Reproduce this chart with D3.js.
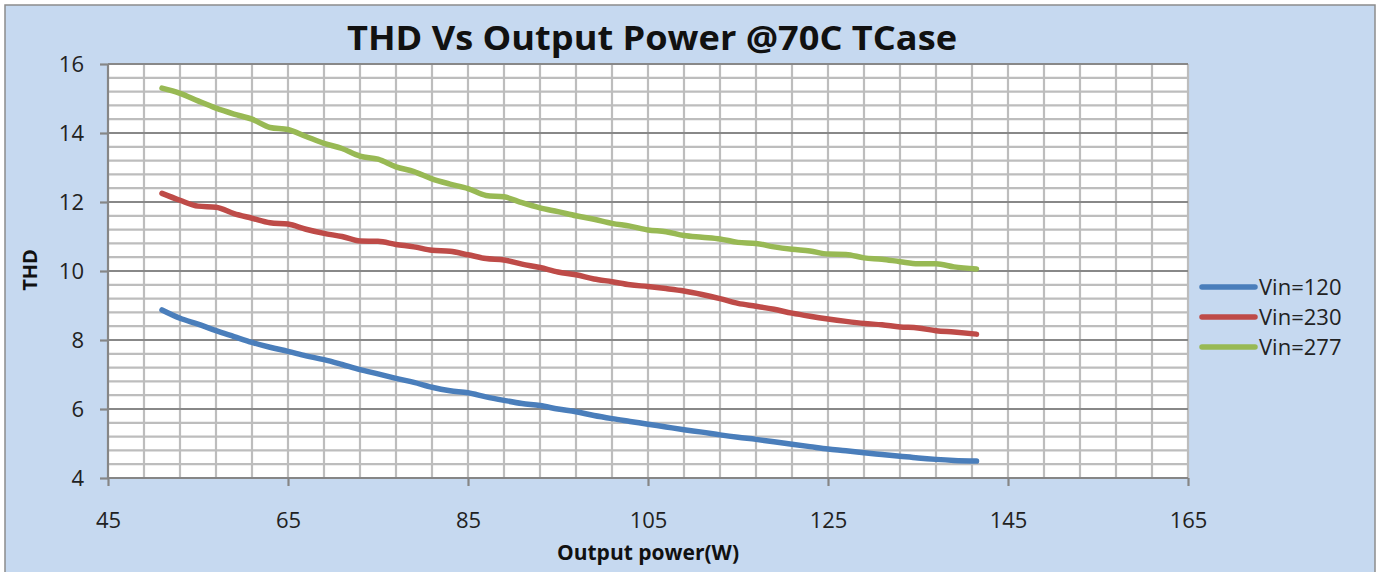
<!DOCTYPE html>
<html>
<head>
<meta charset="utf-8">
<script src="https://cdn.jsdelivr.net/npm/d3@7"></script>
<style>
  body { margin: 0; background: #fff; }
</style>
</head>
<body>
<script>
// output power (W), shared by all three series
var power = [51, 53, 55, 57, 59, 61, 63, 65, 67, 69, 71, 73, 75, 77, 79, 81, 83, 85, 87, 89,
             91, 93, 95, 97, 99, 101, 103, 105, 107, 109, 111, 113, 115, 117, 119, 121, 123,
             125, 127, 129, 131, 133, 135, 137, 139, 141.5];

var vin120 = [8.87, 8.63, 8.46, 8.27, 8.10, 7.93, 7.79, 7.67, 7.54, 7.43, 7.29, 7.14, 7.02, 6.89,
              6.77, 6.63, 6.53, 6.47, 6.35, 6.25, 6.16, 6.10, 6.00, 5.92, 5.81, 5.72, 5.64, 5.56,
              5.48, 5.40, 5.33, 5.25, 5.18, 5.12, 5.05, 4.98, 4.91, 4.84, 4.79, 4.73, 4.68, 4.63,
              4.58, 4.54, 4.51, 4.49];

var vin230 = [12.25, 12.05, 11.88, 11.85, 11.66, 11.53, 11.40, 11.36, 11.21, 11.09, 11.00, 10.87,
              10.86, 10.77, 10.70, 10.60, 10.57, 10.47, 10.36, 10.32, 10.20, 10.10, 9.97, 9.89,
              9.77, 9.69, 9.60, 9.55, 9.49, 9.42, 9.32, 9.20, 9.06, 8.98, 8.89, 8.78, 8.69, 8.61,
              8.54, 8.48, 8.44, 8.38, 8.35, 8.27, 8.23, 8.17];

var vin277 = [15.30, 15.15, 14.93, 14.72, 14.55, 14.40, 14.16, 14.10, 13.90, 13.70, 13.55, 13.33,
              13.24, 13.02, 12.88, 12.67, 12.52, 12.39, 12.19, 12.15, 11.98, 11.83, 11.72, 11.60,
              11.50, 11.38, 11.30, 11.19, 11.14, 11.03, 10.98, 10.93, 10.83, 10.80, 10.70, 10.63,
              10.58, 10.49, 10.48, 10.38, 10.34, 10.27, 10.21, 10.21, 10.12, 10.06];

var seriesNames = ["Vin=120", "Vin=230", "Vin=277"];
var seriesColors = ["#4a7ebb", "#be4b48", "#98b954"];
var xTicks = [45, 65, 85, 105, 125, 145, 165];
var yTicks = [4, 6, 8, 10, 12, 14, 16];

var series = [vin120, vin230, vin277];

var svg = d3.select("body")
    .append("svg")
    .attr("width", 1378)
    .attr("height", 572)
    .style("display", "block");

// chart background
svg.append("rect")
    .attr("x", 5)
    .attr("y", 5)
    .attr("width", 1370)
    .attr("height", 572)
    .attr("fill", "#c6d9f0")
    .attr("stroke", "#8c8c8c")
    .attr("stroke-width", 1.5);

var plotL = 108, plotR = 1188, plotT = 64, plotB = 478;

var x = d3.scaleLinear().domain([45, 165]).range([plotL, plotR]);
var y = d3.scaleLinear().domain([4, 16]).range([plotB, plotT]);

svg.append("rect")
    .attr("x", plotL)
    .attr("y", plotT)
    .attr("width", plotR - plotL)
    .attr("height", plotB - plotT)
    .attr("fill", "#fff");

// minor grid
var g = svg.append("g");
g.selectAll(".vgrid")
    .data(d3.range(49, 166, 4))
    .enter().append("line")
    .attr("x1", function(d) { return x(d); })
    .attr("x2", function(d) { return x(d); })
    .attr("y1", plotT)
    .attr("y2", plotB)
    .attr("stroke", "#bdbdbd")
    .attr("stroke-width", 2.2);

g.selectAll(".hgrid")
    .data(d3.range(4.4, 16, 0.4).filter(function(d) { return Math.abs(d / 2 - Math.round(d / 2)) > 0.01; }))
    .enter().append("line")
    .attr("x1", plotL)
    .attr("x2", plotR)
    .attr("y1", function(d) { return y(d); })
    .attr("y2", function(d) { return y(d); })
    .attr("stroke", "#bdbdbd")
    .attr("stroke-width", 2.2);

// major horizontal grid
g.selectAll(".hmajor")
    .data(yTicks.slice(1))
    .enter().append("line")
    .attr("x1", plotL)
    .attr("x2", plotR)
    .attr("y1", function(d) { return y(d); })
    .attr("y2", function(d) { return y(d); })
    .attr("stroke", "#888")
    .attr("stroke-width", 2.2);

// axes
var yAxis = svg.append("g")
    .attr("transform", "translate(" + plotL + ",0)")
    .call(d3.axisLeft(y).tickValues(yTicks).tickSize(8).tickPadding(16));

var xAxis = svg.append("g")
    .attr("transform", "translate(0," + plotB + ")")
    .call(d3.axisBottom(x).tickValues(xTicks).tickSize(8).tickPadding(26));

[yAxis, xAxis].forEach(function(a) {
    a.selectAll("path, line").attr("stroke", "#868686").attr("stroke-width", 2.2);
    a.select(".domain").attr("d", a === yAxis
        ? "M0," + plotT + "V" + plotB
        : "M" + plotL + ",0H" + plotR);
    a.selectAll("text")
        .attr("font-family", "'Open Sans', sans-serif")
        .attr("font-size", "22px")
        .attr("fill", "#222");
});

// series lines
var line = d3.line()
    .x(function(d, i) { return x(power[i]); })
    .y(function(d) { return y(d); })
    .curve(d3.curveMonotoneX);

svg.selectAll(".series")
    .data(series)
    .enter().append("path")
    .attr("d", line)
    .attr("fill", "none")
    .attr("stroke", function(d, i) { return seriesColors[i]; })
    .attr("stroke-width", 5.5)
    .attr("stroke-linecap", "round")
    .attr("stroke-linejoin", "round");

// title
svg.append("text")
    .attr("x", 652)
    .attr("y", 50)
    .attr("text-anchor", "middle")
    .attr("font-family", "'Open Sans', sans-serif")
    .attr("font-weight", "bold")
    .attr("font-size", "34px")
    .attr("textLength", 610)
    .attr("lengthAdjust", "spacingAndGlyphs")
    .attr("fill", "#111")
    .text("THD Vs Output Power @70C TCase");

// axis titles
svg.append("text")
    .attr("transform", "translate(37,270) rotate(-90)")
    .attr("text-anchor", "middle")
    .attr("font-family", "'Open Sans', sans-serif")
    .attr("font-weight", "bold")
    .attr("font-size", "20px")
    .attr("fill", "#111")
    .text("THD");

svg.append("text")
    .attr("x", 648)
    .attr("y", 560)
    .attr("text-anchor", "middle")
    .attr("font-family", "'Open Sans', sans-serif")
    .attr("font-weight", "bold")
    .attr("font-size", "21px")
    .attr("fill", "#111")
    .text("Output power(W)");

// legend
var legend = svg.selectAll(".legend")
    .data(seriesNames)
    .enter().append("g")
    .attr("transform", function(d, i) { return "translate(1202," + (287 + i * 30) + ")"; });

legend.append("line")
    .attr("x1", 0)
    .attr("x2", 53)
    .attr("stroke", function(d, i) { return seriesColors[i]; })
    .attr("stroke-width", 5.5)
    .attr("stroke-linecap", "round");

legend.append("text")
    .attr("x", 57)
    .attr("y", 8)
    .attr("font-family", "'Open Sans', sans-serif")
    .attr("font-size", "22px")
    .attr("fill", "#222")
    .text(function(d) { return d; });
</script>
</body>
</html>
